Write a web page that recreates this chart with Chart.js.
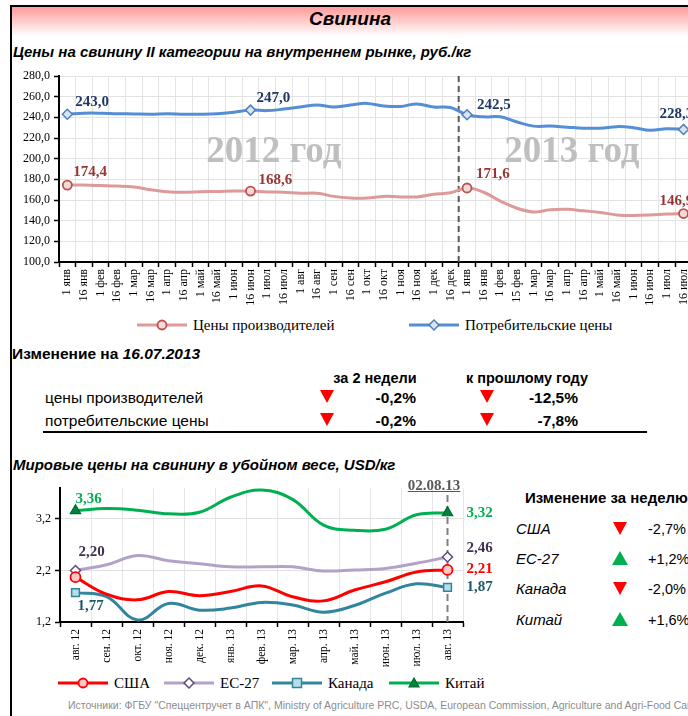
<!DOCTYPE html>
<html><head><meta charset="utf-8">
<script src="https://cdn.jsdelivr.net/npm/chart.js@4"></script>
<style>
html,body{margin:0;padding:0;width:688px;height:716px;overflow:hidden;background:#fff;}
body{position:relative;font-family:"Liberation Sans",Arial,sans-serif;color:#000;}
.a{position:absolute;white-space:nowrap;}
.narrow{font-family:"Liberation Sans Narrow","Arial Narrow","Liberation Sans",sans-serif;}
.serif{font-family:"Liberation Serif","Times New Roman",serif;}
.tdown{position:absolute;width:0;height:0;border-left:7px solid transparent;border-right:7px solid transparent;border-top:13px solid #ff0000;}
.tup{position:absolute;width:0;height:0;border-left:8px solid transparent;border-right:8px solid transparent;border-bottom:14px solid #00b050;}
canvas{position:absolute;}
.leg{position:absolute;display:flex;align-items:center;font-family:"Liberation Serif","Times New Roman",serif;font-size:15px;white-space:nowrap;}
.leg svg{margin-right:4px;}
</style></head><body>

<!-- frame and header -->
<div class="a" style="left:10px;top:5px;width:690px;height:2px;background:#000;"></div>
<div class="a" style="left:10px;top:5px;width:2px;height:720px;background:#000;"></div>
<div class="a" style="left:12px;top:7px;width:690px;height:29px;background:linear-gradient(#ff9a9a,#ffffff);"></div>
<div class="a" style="left:12px;width:690px;top:8px;line-height:22px;font-size:19px;font-weight:bold;font-style:italic;text-align:center;padding-right:14px;box-sizing:border-box;">Свинина</div>
<div class="a narrow" style="left:13px;top:43px;line-height:18px;font-size:15px;font-weight:bold;font-style:italic;">Цены на свинину II категории на внутреннем рынке, руб./кг</div>

<canvas id="c1" width="700" height="250" style="left:0;top:60px;width:700px;height:250px;"></canvas>

<div class="leg" style="left:137px;top:316px;line-height:18px;">
<svg width="52" height="12"><line x1="0" y1="6" x2="50" y2="6" stroke="#DE9A9A" stroke-width="3"/><circle cx="25" cy="6" r="4.5" fill="#F2DCDB" stroke="#C0504D" stroke-width="1.8"/></svg>Цены производителей</div>
<div class="leg" style="left:409px;top:316px;line-height:18px;">
<svg width="52" height="12"><line x1="0" y1="6" x2="50" y2="6" stroke="#558ED5" stroke-width="3"/><rect x="21.5" y="2.5" width="7" height="7" transform="rotate(45 25 6)" fill="#DBE5F1" stroke="#4F81BD" stroke-width="1.5"/></svg>Потребительские цены</div>

<!-- change table -->
<div class="a" style="left:12px;top:345px;line-height:18px;font-size:15.5px;font-weight:bold;">Изменение на <i>16.07.2013</i></div>
<div class="a" style="left:325px;width:100px;text-align:center;top:369px;line-height:18px;font-size:14.5px;font-weight:bold;">за 2 недели</div>
<div class="a" style="left:457px;width:140px;text-align:center;top:369px;line-height:18px;font-size:14.5px;font-weight:bold;">к прошлому году</div>
<div class="a" style="left:45px;top:389px;line-height:18px;font-size:15.5px;">цены производителей</div>
<div class="a" style="left:45px;top:412px;line-height:18px;font-size:15.5px;">потребительские цены</div>
<div class="tdown" style="left:320px;top:390px;"></div>
<div class="tdown" style="left:480px;top:390px;"></div>
<div class="tdown" style="left:320px;top:413px;"></div>
<div class="tdown" style="left:480px;top:413px;"></div>
<div class="a" style="left:330px;width:86px;text-align:right;top:389px;line-height:18px;font-size:15.5px;font-weight:bold;">-0,2%</div>
<div class="a" style="left:490px;width:88px;text-align:right;top:389px;line-height:18px;font-size:15.5px;font-weight:bold;">-12,5%</div>
<div class="a" style="left:330px;width:86px;text-align:right;top:412px;line-height:18px;font-size:15.5px;font-weight:bold;">-0,2%</div>
<div class="a" style="left:490px;width:88px;text-align:right;top:412px;line-height:18px;font-size:15.5px;font-weight:bold;">-7,8%</div>
<div class="a" style="left:43px;top:431px;width:604px;height:2px;background:#000;"></div>

<div class="a narrow" style="left:13px;top:456px;line-height:18px;font-size:15px;font-weight:bold;font-style:italic;">Мировые цены на свинину в убойном весе, USD/кг</div>

<canvas id="c2" width="510" height="195" style="left:0;top:475px;width:510px;height:195px;"></canvas>
<div class="a serif" style="left:404px;width:60px;text-align:center;top:477px;line-height:17px;font-size:15px;font-weight:bold;color:#595959;text-decoration:underline;">02.08.13</div>

<!-- weekly change -->
<div class="a" style="left:525px;top:489px;line-height:18px;font-size:15px;font-weight:bold;">Изменение за неделю</div>
<div class="a" style="left:516px;top:520px;line-height:18px;font-size:15px;font-style:italic;">США</div>
<div class="a" style="left:516px;top:550px;line-height:18px;font-size:15px;font-style:italic;">ЕС-27</div>
<div class="a" style="left:516px;top:580px;line-height:18px;font-size:15px;font-style:italic;">Канада</div>
<div class="a" style="left:516px;top:611px;line-height:18px;font-size:15px;font-style:italic;">Китай</div>
<div class="tdown" style="left:613px;top:522px;"></div>
<div class="tup" style="left:612px;top:551px;"></div>
<div class="tdown" style="left:613px;top:582px;"></div>
<div class="tup" style="left:612px;top:612px;"></div>
<div class="a" style="left:648px;top:520px;line-height:18px;font-size:14.5px;">-2,7%</div>
<div class="a" style="left:648px;top:550px;line-height:18px;font-size:14.5px;">+1,2%</div>
<div class="a" style="left:648px;top:580px;line-height:18px;font-size:14.5px;">-2,0%</div>
<div class="a" style="left:648px;top:611px;line-height:18px;font-size:14.5px;">+1,6%</div>

<div class="leg" style="left:58px;top:674px;line-height:18px;">
<svg width="52" height="12"><line x1="0" y1="6" x2="50" y2="6" stroke="#FF0000" stroke-width="3"/><circle cx="25" cy="6" r="4.5" fill="#FFC7C7" stroke="#FF0000" stroke-width="1.8"/></svg>США</div>
<div class="leg" style="left:164px;top:674px;line-height:18px;">
<svg width="52" height="12"><line x1="0" y1="6" x2="50" y2="6" stroke="#B3A2C7" stroke-width="3"/><rect x="21.5" y="2.5" width="7" height="7" transform="rotate(45 25 6)" fill="#ffffff" stroke="#604A7B" stroke-width="1.5"/></svg>ЕС-27</div>
<div class="leg" style="left:272px;top:674px;line-height:18px;">
<svg width="52" height="12"><line x1="0" y1="6" x2="50" y2="6" stroke="#31859C" stroke-width="3"/><rect x="20.5" y="1.5" width="9" height="9" fill="#B7DEE8" stroke="#31859C" stroke-width="1.5"/></svg>Канада</div>
<div class="leg" style="left:389px;top:674px;line-height:18px;">
<svg width="52" height="12"><line x1="0" y1="6" x2="50" y2="6" stroke="#00B050" stroke-width="3"/><polygon points="25,1 30,10 20,10" fill="#00843D" stroke="#006B2E" stroke-width="1.2"/></svg>Китай</div>

<div class="a narrow" style="left:68px;top:698px;line-height:15px;font-size:10.5px;color:#8c8c8c;">Источники: ФГБУ "Спеццентручет в АПК", Ministry of Agriculture PRC, USDA, European Commission, Agriculture and Agri-Food Canada</div>

<script>
// ---------- DATA ----------
const domesticLabels = ['1 янв','16 янв','1 фев','16 фев','1 мар','16 мар','1 апр','16 апр','1 май','16 май','1 июн','16 июн','1 июл','16 июл','1 авг','16 авг','1 сен','16 сен','1 окт','16 окт','1 ноя','16 ноя','1 дек','16 дек','1 янв','16 янв','1 фев','15 фев','1 мар','16 мар','1 апр','16 апр','1 май','16 май','1 июн','16 июн','1 июл','16 июл'];
const producerPrices = [174.4,174.4,174.0,173.5,172.5,170.0,168.0,167.5,168.0,168.3,168.8,168.6,167.8,167.5,166.5,166.5,163.5,162.0,162.0,163.5,163.0,163.0,165.5,167.0,171.6,167.5,159.0,152.0,148.5,150.5,151.0,149.5,148.0,145.5,145.0,145.5,146.5,146.9];
const consumerPrices = [243.0,244.0,244.0,243.5,243.3,243.0,243.5,243.0,243.0,243.5,245.0,247.0,246.5,248.0,250.0,252.0,250.0,252.0,253.5,251.0,250.5,253.0,250.0,249.5,242.5,240.5,240.5,235.5,231.5,231.5,230.5,229.5,229.5,231.0,230.0,227.5,229.0,228.3];
const domesticMarked = [0,11,24,37];
const domesticTicks = [100,120,140,160,180,200,220,240,260,280];
const yearNotes = ['2012 год','2013 год'];

const worldLabels = ['авг. 12','сен. 12','окт. 12','ноя. 12','дек. 12','янв. 13','фев. 13','мар. 13','апр. 13','май. 13','июн. 13','июл. 13','авг. 13'];
const usa    = [2.07,1.74,1.63,1.79,1.71,1.79,1.90,1.69,1.61,1.82,1.98,2.17,2.21];
const eu27   = [2.20,2.31,2.49,2.39,2.33,2.27,2.27,2.27,2.19,2.21,2.24,2.34,2.46];
const canada = [1.77,1.69,1.24,1.56,1.43,1.47,1.58,1.53,1.39,1.52,1.76,1.94,1.87];
const china  = [3.36,3.40,3.37,3.30,3.33,3.62,3.76,3.58,3.08,2.98,3.00,3.28,3.32];
const worldTicks = [1.2,2.2,3.2];
const worldMarked = [0,12];

// ---------- helpers ----------
const SERIF = '"Liberation Serif","Times New Roman",serif';
const fmt = (v,d)=>v.toFixed(d).replace('.',',');
const markRadius = (marked,r)=>ctx=>marked.includes(ctx.dataIndex)?r:0;

const labelPlugin = {
  id:'ptlabels',
  afterDatasetsDraw(chart,args,opts){
    const ctx=chart.ctx;
    (opts.items||[]).forEach(it=>{
      const el=chart.getDatasetMeta(it.ds).data[it.idx];
      const v=chart.data.datasets[it.ds].data[it.idx];
      ctx.save();
      ctx.font=opts.font; ctx.fillStyle=it.color;
      ctx.textAlign='left'; ctx.textBaseline='middle';
      ctx.fillText(fmt(v,opts.dec), el.x+it.dx, el.y+it.dy);
      ctx.restore();
    });
  }
};
const vlinePlugin = {
  id:'vline',
  beforeDatasetsDraw(chart,args,opts){
    if(opts.at==null) return;
    const {ctx,chartArea}=chart;
    const x=chart.scales.x.getPixelForValue(opts.at);
    ctx.save(); ctx.strokeStyle=opts.color; ctx.lineWidth=opts.width; ctx.setLineDash(opts.dash);
    ctx.beginPath(); ctx.moveTo(x,chartArea.top+(opts.topGap||0)); ctx.lineTo(x,chartArea.bottom); ctx.stroke();
    ctx.restore();
  }
};
const notePlugin = {
  id:'notes',
  beforeDatasetsDraw(chart,args,opts){
    const ctx=chart.ctx;
    (opts.items||[]).forEach(it=>{
      const x=chart.scales.x.getPixelForValue(it.x), y=chart.scales.y.getPixelForValue(it.y);
      ctx.save(); ctx.font=opts.font; ctx.fillStyle=opts.color; ctx.textAlign='center'; ctx.textBaseline='middle';
      ctx.fillText(it.text,x,y); ctx.restore();
    });
  }
};

// ---------- domestic chart ----------
new Chart(document.getElementById('c1'),{
  type:'line',
  data:{labels:domesticLabels,datasets:[
    {label:'Цены производителей',data:producerPrices,borderColor:'#DE9A9A',borderWidth:3,tension:0.4,
     pointRadius:markRadius(domesticMarked,4.5),pointBackgroundColor:'#F2DCDB',pointBorderColor:'#C0504D',pointBorderWidth:1.8,pointStyle:'circle'},
    {label:'Потребительские цены',data:consumerPrices,borderColor:'#558ED5',borderWidth:3,tension:0.4,
     pointRadius:markRadius(domesticMarked,5),pointBackgroundColor:'#DBE5F1',pointBorderColor:'#4F81BD',pointBorderWidth:1.5,pointStyle:'rectRot'}
  ]},
  options:{
    responsive:false,animation:false,
    layout:{padding:{top:16,right:6,left:0,bottom:0}},
    plugins:{legend:{display:false},tooltip:{enabled:false},
      ptlabels:{font:'bold 15px '+SERIF,dec:1,items:[
        {ds:1,idx:0,dx:8,dy:-12,color:'#1F3864'},
        {ds:1,idx:11,dx:6,dy:-12,color:'#1F3864'},
        {ds:1,idx:24,dx:10,dy:-10,color:'#1F3864'},
        {ds:1,idx:37,dx:-24,dy:-15,color:'#1F3864'},
        {ds:0,idx:0,dx:6,dy:-13,color:'#953735'},
        {ds:0,idx:11,dx:8,dy:-11,color:'#953735'},
        {ds:0,idx:24,dx:9,dy:-14,color:'#953735'},
        {ds:0,idx:37,dx:-24,dy:-12,color:'#953735'}
      ]},
      vline:{at:23.5,color:'#595959',width:2,dash:[6,4]},
      notes:{font:'bold 37px '+SERIF,color:'#BFBFBF',items:[
        {text:yearNotes[0],x:12.4,y:206},{text:yearNotes[1],x:30.3,y:206}]}
    },
    scales:{
      x:{offset:true,
        grid:{offset:true,color:'#E3E3E3',borderDash:[1,2],tickColor:'#000',tickLength:5,tickBorderDash:[],tickWidth:1.5},
        border:{color:'#000',width:2},
        ticks:{autoSkip:false,minRotation:90,maxRotation:90,padding:2,color:'#000',font:{family:SERIF,size:12}},
        afterFit:s=>{s.height=48;}},
      y:{min:100,max:280,
        afterBuildTicks:s=>{s.ticks=domesticTicks.map(v=>({value:v}));},
        grid:{color:'#E3E3E3',borderDash:[1,2],tickColor:'#000',tickLength:5,tickBorderDash:[],tickWidth:1.5},
        border:{color:'#000',width:2},
        ticks:{padding:4,color:'#000',font:{family:SERIF,size:12},callback:v=>fmt(v,1)},
        afterFit:s=>{s.width=59;}}
    }
  },
  plugins:[labelPlugin,vlinePlugin,notePlugin]
});

// ---------- world chart ----------
new Chart(document.getElementById('c2'),{
  type:'line',
  data:{labels:worldLabels,datasets:[
    {label:'США',data:usa,borderColor:'#FF0000',borderWidth:3,tension:0.4,
     pointRadius:markRadius(worldMarked,5),pointBackgroundColor:'#FFC7C7',pointBorderColor:'#FF0000',pointBorderWidth:1.8},
    {label:'ЕС-27',data:eu27,borderColor:'#B3A2C7',borderWidth:3,tension:0.4,pointStyle:'rectRot',
     pointRadius:markRadius(worldMarked,5),pointBackgroundColor:'#FFFFFF',pointBorderColor:'#604A7B',pointBorderWidth:1.5},
    {label:'Канада',data:canada,borderColor:'#31859C',borderWidth:3,tension:0.4,pointStyle:'rect',
     pointRadius:markRadius(worldMarked,5.5),pointBackgroundColor:'#B7DEE8',pointBorderColor:'#31859C',pointBorderWidth:1.5},
    {label:'Китай',data:china,borderColor:'#00B050',borderWidth:3,tension:0.4,pointStyle:'triangle',
     pointRadius:markRadius(worldMarked,6),pointBackgroundColor:'#00843D',pointBorderColor:'#006B2E',pointBorderWidth:1.2}
  ]},
  options:{
    responsive:false,animation:false,
    layout:{padding:{top:13,right:47,left:0,bottom:0}},
    plugins:{legend:{display:false},tooltip:{enabled:false},
      ptlabels:{font:'bold 15px '+SERIF,dec:2,items:[
        {ds:3,idx:0,dx:0,dy:-12,color:'#00B050'},
        {ds:1,idx:0,dx:3,dy:-18,color:'#403152'},
        {ds:2,idx:0,dx:2,dy:14,color:'#215968'},
        {ds:3,idx:12,dx:19,dy:0,color:'#00B050'},
        {ds:1,idx:12,dx:19,dy:-9,color:'#403152'},
        {ds:0,idx:12,dx:19,dy:-1,color:'#FF0000'},
        {ds:2,idx:12,dx:19,dy:0,color:'#215968'}
      ]},
      vline:{at:12,color:'#808080',width:2,dash:[7,4],topGap:7}
    },
    scales:{
      x:{offset:true,
        grid:{offset:true,color:'#E6E6E6',borderDash:[4,3],tickColor:'#000',tickLength:5,tickBorderDash:[],tickWidth:1.5},
        border:{color:'#000',width:2},
        ticks:{autoSkip:false,minRotation:90,maxRotation:90,padding:2,color:'#000',font:{family:SERIF,size:11.5}},
        afterFit:s=>{s.height=48;}},
      y:{min:1.2,max:3.8,
        afterBuildTicks:s=>{s.ticks=worldTicks.map(v=>({value:v}));},
        grid:{color:'#E0E0E0',borderDash:[2,2],tickColor:'#000',tickLength:5,tickBorderDash:[],tickWidth:1.5},
        border:{color:'#000',width:2},
        ticks:{padding:4,color:'#000',font:{family:SERIF,size:12},callback:v=>fmt(v,1)},
        afterFit:s=>{s.width=60;}}
    }
  },
  plugins:[labelPlugin,vlinePlugin]
});
</script>
</body></html>
